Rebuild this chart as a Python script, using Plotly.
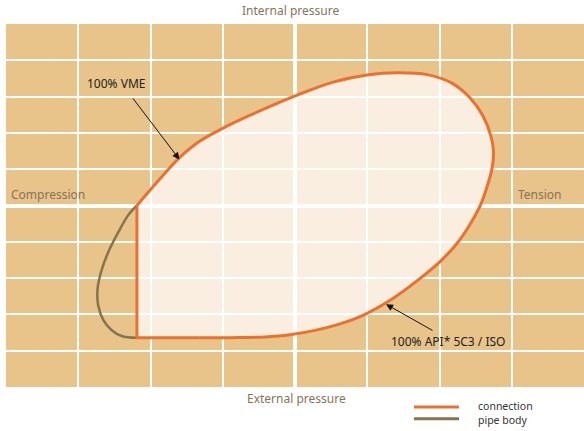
import plotly.graph_objects as go

# Connection envelope (axial load %, pressure %), clockwise from the
# compression/zero-pressure corner; the last point closes the straight
# collapse/compression limits.
conn_x = [-54.7, -50.2, -45.0, -39.8, -32.9, -24.9, -16.3, -7.6, 0.7, 13.2,
          24.9, 35.3, 45.7, 54.3, 60.6, 65.1, 67.8, 68.7, 68.2, 66.4, 64.0,
          60.6, 56.1, 50.2, 42.2, 32.9, 23.5, 15.6, 6.9, -1.7, -10.4, -22.5,
          -32.9, -54.7]
conn_y = [0.0, 8.4, 17.8, 26.6, 35.5, 42.6, 49.2, 55.3, 60.8, 68.0,
          71.9, 73.1, 72.1, 67.4, 59.2, 49.2, 38.2, 29.4, 20.6, 10.1, -0.4,
          -10.3, -20.8, -30.9, -41.5, -52.2, -60.5, -65.2, -68.8, -71.2, -72.4,
          -72.8, -72.9, -72.9]

# Pipe body envelope in the compression / external pressure quadrant
pipe_x = [-54.7, -57.7, -61.1, -64.6, -67.1, -68.3, -68.1, -66.3, -63.4, -60.0, -54.7]
pipe_y = [0.0, -5.3, -14.6, -25.6, -36.6, -45.8, -55.0, -63.2, -68.7, -71.9, -72.9]

grid_x = [-75, -50, -25, 25, 50, 75]
grid_y = [-80, -60, -40, -20, 20, 40, 60, 80]

# Callouts: (label, text position, arrow tail, arrow tip)
callouts = [
    ("100% VME", (-61.9, 67.4), (-56.5, 59.9), (-40.0, 25.4)),
    ("100% API* 5C3 / ISO", (53.0, -74.7), (48.1, -69.3), (31.5, -54.4)),
]

TAN = "#e8c38a"
CREAM = "#faeee0"
ORANGE = "#ea7130"
BROWN = "#867350"
LABEL = "#857459"
FONT = "Noto Sans"

fig = go.Figure()

# Pale fill of the connection envelope, placed under the grid
fill_path = "M " + " L ".join(f"{x},{y}" for x, y in zip(conn_x, conn_y)) + " Z"
fig.add_shape(type="path", path=fill_path, xref="x", yref="y",
              fillcolor=CREAM, line=dict(width=0), layer="below")

fig.add_trace(go.Scatter(x=pipe_x, y=pipe_y, mode="lines",
                         line=dict(color=BROWN, width=2.5, shape="spline"),
                         showlegend=False, hoverinfo="skip"))
fig.add_trace(go.Scatter(x=conn_x[:-1], y=conn_y[:-1], mode="lines",
                         line=dict(color=ORANGE, width=3, shape="spline"),
                         showlegend=False, hoverinfo="skip"))
fig.add_trace(go.Scatter(x=[conn_x[-2], conn_x[-1], conn_x[0]],
                         y=[conn_y[-2], conn_y[-1], conn_y[0]], mode="lines",
                         line=dict(color=ORANGE, width=3),
                         showlegend=False, hoverinfo="skip"))

annotations = []
for text, (tx, ty), (ax, ay), (px, py) in callouts:
    annotations.append(dict(x=px, y=py, ax=ax, ay=ay, xref="x", yref="y",
                            axref="x", ayref="y", text="", showarrow=True,
                            arrowhead=2, arrowsize=1.4, arrowwidth=1,
                            arrowcolor="#111111", standoff=0))
    annotations.append(dict(x=tx, y=ty, xref="x", yref="y", text=text,
                            showarrow=False,
                            font=dict(family=FONT, size=12, color="#222222")))

axis_labels = [
    ("Internal pressure", 290.3, 11),
    ("External pressure", 296, 397.7),
    ("Compression", 48, 194),
    ("Tension", 539.5, 194),
]
for text, px, py in axis_labels:
    annotations.append(dict(x=(px - 6) / 578, y=(386.7 - py) / 362.7,
                            xref="paper", yref="paper", text=text,
                            showarrow=False, xanchor="center", yanchor="middle",
                            font=dict(family=FONT, size=12, color=LABEL)))

# Legend drawn by hand: sample line + label
legend_items = [("connection", ORANGE, 406.7, 405.8),
                ("pipe body", BROWN, 418.3, 419.6)]
for text, color, line_y, text_y in legend_items:
    yl = (386.7 - line_y) / 362.7
    yt = (386.7 - text_y) / 362.7
    fig.add_shape(type="line", xref="paper", yref="paper",
                  x0=(414 - 6) / 578, x1=(459 - 6) / 578, y0=yl, y1=yl,
                  line=dict(color=color, width=3))
    annotations.append(dict(x=(477 - 6) / 578, y=yt, xref="paper", yref="paper",
                            text=text, showarrow=False, xanchor="left",
                            yanchor="middle", borderpad=0,
                            font=dict(family=FONT, size=10.5, color="#333333")))

fig.update_layout(
    width=584, height=431, autosize=False,
    margin=dict(l=6, r=0, t=24, b=44),
    paper_bgcolor="white", plot_bgcolor=TAN,
    annotations=annotations,
    xaxis=dict(range=[-100, 100], tickmode="array", tickvals=grid_x,
               showticklabels=False, ticks="", showgrid=True,
               gridcolor="white", gridwidth=2, zeroline=True,
               zerolinecolor="white", zerolinewidth=4, showline=False,
               fixedrange=True),
    yaxis=dict(range=[-100, 100], tickmode="array", tickvals=grid_y,
               showticklabels=False, ticks="", showgrid=True,
               gridcolor="white", gridwidth=2, zeroline=True,
               zerolinecolor="white", zerolinewidth=4, showline=False,
               fixedrange=True),
)

fig.write_html("out.html")
